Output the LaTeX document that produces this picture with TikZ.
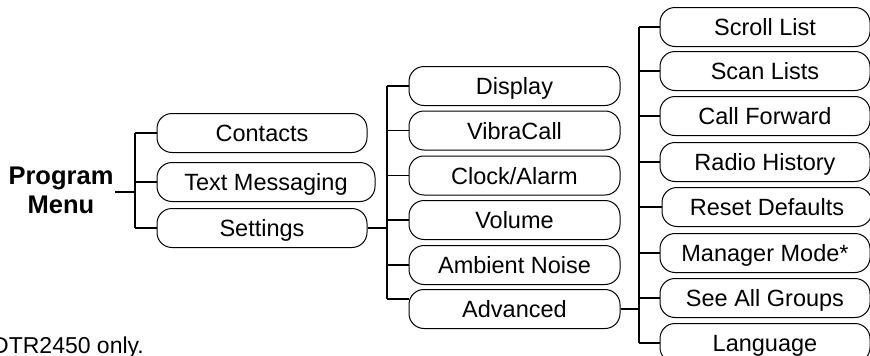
\documentclass[tikz,border=0pt]{standalone}
\usepackage{fontspec}
\setmainfont{Liberation Sans}
\begin{document}
\begin{tikzpicture}[x=1pt,y=-1pt,
  menubox/.style={draw, line width=1pt, rounded corners=15pt, minimum height=39pt,
    inner sep=0pt, text height=17pt, text depth=0pt, font=\fontsize{23.5}{28}\selectfont},
  link/.style={line width=1.8pt}]
\useasboundingbox (0,0) rectangle (870,356);
% brackets x positions
\coordinate (b1) at (135,0);
\coordinate (b2) at (387,0);
\coordinate (b3) at (639,0);
% title
\node[font=\bfseries\fontsize{25.5}{29}\selectfont, align=center, inner sep=0pt] (pm) at (61,190) {Program\\Menu};
\coordinate (pmend) at (115,192);
% column 1
\node[menubox, minimum width=210pt] (contacts) at (262,133) {Contacts};
\node[menubox, minimum width=218pt] (textmsg) at (266,182) {Text Messaging};
\node[menubox, minimum width=210pt] (settings) at (262,228) {Settings};
% column 2
\node[menubox, minimum width=211pt] (display) at (514.5,86) {Display};
\node[menubox, minimum width=211pt] (vibra) at (514.5,130.5) {VibraCall};
\node[menubox, minimum width=211pt] (clock) at (514.5,175.5) {Clock/Alarm};
\node[menubox, minimum width=211pt] (volume) at (514.5,220) {Volume};
\node[menubox, minimum width=211pt] (ambient) at (514.5,265) {Ambient Noise};
\node[menubox, minimum width=211pt] (advanced) at (514.5,309) {Advanced};
% column 3
\node[menubox, minimum width=210pt] (scroll) at (765,27) {Scroll List};
\node[menubox, minimum width=210pt] (scan) at (765,71) {Scan Lists};
\node[menubox, minimum width=210pt] (callfwd) at (765,116) {Call Forward};
\node[menubox, minimum width=210pt] (radio) at (765,162) {Radio History};
\node[menubox, minimum width=210pt] (reset) at (767,207) {Reset Defaults};
\node[menubox, minimum width=210pt] (manager) at (765,253) {Manager Mode*};
\node[menubox, minimum width=210pt] (seeall) at (765,298) {See All Groups};
\node[menubox, minimum width=210pt] (language) at (765,343) {Language};
% footnote
\node[anchor=base west, inner sep=0pt, font=\fontsize{23}{27}\selectfont] (note) at (-8,353) {DTR2450 only.};
% connectors level 1
\draw[link] (pmend) -- (pmend -| b1);
\draw[link] (contacts.west -| b1) -- (settings.west -| b1);
\foreach \n in {contacts,textmsg,settings} \draw[link] (\n.west -| b1) -- (\n.west);
% level 2
\draw[link] (settings.east) -- (settings.east -| b2);
\coordinate (advin) at ([yshift=10pt]advanced.west);
\draw[link] (display.west -| b2) -- (advin -| b2);
\foreach \n in {display,vibra,clock,volume,ambient} \draw[link] (\n.west -| b2) -- (\n.west);
\draw[link] (advin -| b2) -- (advin);
% level 3
\draw[link] (advanced.east) -- (advanced.east -| b3);
\draw[link] (scroll.west -| b3) -- (language.west -| b3);
\foreach \n in {scroll,scan,callfwd,radio,reset,manager,seeall,language} \draw[link] (\n.west -| b3) -- (\n.west);
\end{tikzpicture}
\end{document}
